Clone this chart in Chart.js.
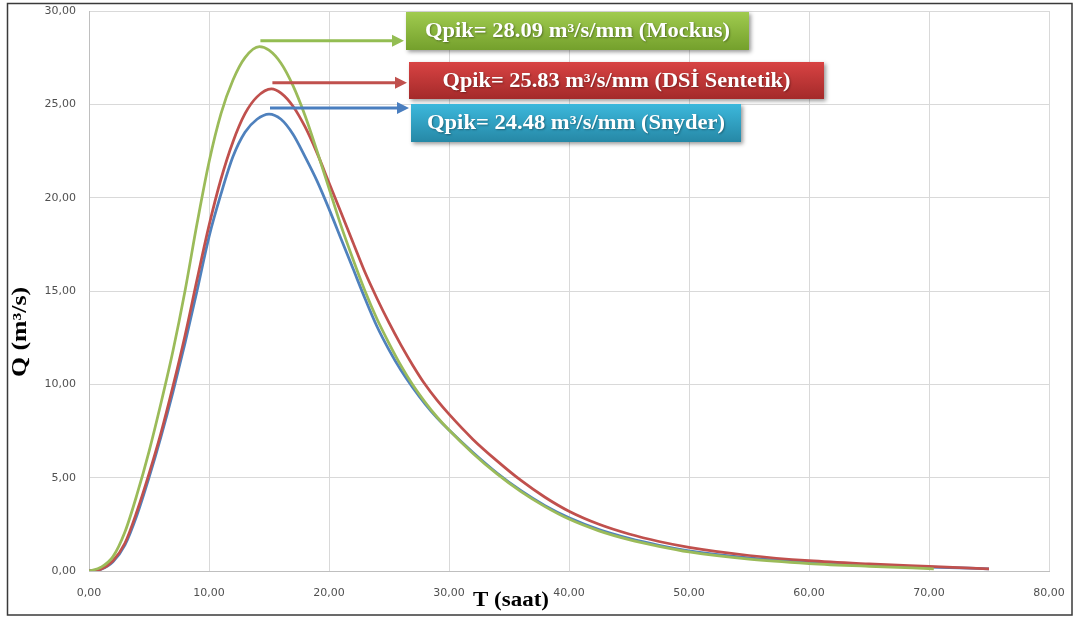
<!DOCTYPE html>
<html>
<head>
<meta charset="utf-8">
<script src="https://cdn.jsdelivr.net/npm/chart.js@4.4.1/dist/chart.umd.min.js"></script>
<style>
  html, body { margin: 0; padding: 0; background: #ffffff; }
  #wrap { position: relative; width: 1078px; height: 619px; }
</style>
</head>
<body>
<div id="wrap"><canvas id="c" width="1078" height="619"></canvas></div>
<script>
// Axis ticks
const xTicks = [0, 10, 20, 30, 40, 50, 60, 70, 80];
const yTicks = [0, 5, 10, 15, 20, 25, 30];

// Unit hydrographs: time (saat) and discharge (m3/s/mm)
const mockusT = [0, 1, 2, 3, 4, 5, 6, 7, 8, 9, 10, 11, 12, 13, 14.2, 15, 16, 17, 18, 19, 20, 21, 22, 23, 24, 25, 26, 27, 28, 29, 30, 32, 34, 36, 38, 40, 42.5, 45, 47.5, 50, 55, 60, 65, 70.4];
const mockusQ = [0, 0.2, 0.77, 2.1, 4.1, 6.4, 9.0, 11.8, 15.0, 18.6, 21.9, 24.5, 26.3, 27.5, 28.09, 27.9, 27.2, 26.0, 24.4, 22.5, 20.5, 18.5, 16.7, 15.0, 13.5, 12.2, 11.0, 9.95, 9.05, 8.25, 7.55, 6.3, 5.2, 4.25, 3.45, 2.78, 2.15, 1.68, 1.32, 1.02, 0.63, 0.4, 0.25, 0.12];

const dsiT = [0, 1, 2, 3, 4, 5, 6, 7, 8, 9, 10, 11, 12, 13, 14, 15.2, 16, 17, 18, 19, 20, 21, 22, 23, 24, 25, 26, 27, 28, 29, 30, 32, 34, 36, 38, 40, 42.5, 45, 47.5, 50, 55, 60, 65, 70, 75];
const dsiQ = [0, 0.1, 0.55, 1.5, 3.2, 5.2, 7.4, 9.9, 12.6, 15.6, 18.5, 21.0, 23.0, 24.5, 25.4, 25.83, 25.6, 24.9, 23.8, 22.4, 20.8, 19.2, 17.6, 16.0, 14.6, 13.3, 12.1, 11.0, 10.0, 9.15, 8.4, 7.05, 5.9, 4.85, 3.95, 3.2, 2.5, 1.98, 1.58, 1.27, 0.83, 0.55, 0.38, 0.25, 0.12];

const snyderT = [0, 1, 2, 3, 4, 5, 6, 7, 8, 9, 10, 11, 12, 13, 14, 15, 16, 17, 18, 19, 20, 21, 22, 23, 24, 25, 26, 27, 28, 29, 30, 32, 34, 36, 38, 40, 42.5, 45, 47.5, 50, 55, 60, 65, 70, 75];
const snyderQ = [0, 0.1, 0.5, 1.4, 3.0, 5.0, 7.2, 9.6, 12.2, 15.0, 17.9, 20.2, 22.2, 23.5, 24.2, 24.48, 24.2, 23.4, 22.2, 20.9, 19.4, 17.8, 16.2, 14.6, 13.1, 11.85, 10.75, 9.8, 8.95, 8.2, 7.55, 6.35, 5.25, 4.3, 3.5, 2.85, 2.22, 1.75, 1.38, 1.08, 0.7, 0.46, 0.32, 0.21, 0.12];

// Peak discharge callouts
const peakNames = ['Mockus', 'DSİ Sentetik', 'Snyder'];
const peakValues = [28.09, 25.83, 24.48];
const peakTimes = [14.2, 15.2, 15];

const fmt = v => Number(v).toFixed(2).replace('.', ',');
const pts = (t, q) => t.map((x, i) => ({ x: x, y: q[i] }));

const seriesStyle = (color) => ({
  showLine: true,
  borderColor: color,
  backgroundColor: color,
  borderWidth: 2.75,
  pointRadius: 0,
  cubicInterpolationMode: 'monotone',
  fill: false
});

// Frame around the whole figure
const framePlugin = {
  id: 'frame',
  beforeDraw(chart) {
    const ctx = chart.ctx;
    ctx.save();
    ctx.fillStyle = '#ffffff';
    ctx.fillRect(0, 0, chart.width, chart.height);
    ctx.strokeStyle = '#3a3a3a';
    ctx.lineWidth = 1.5;
    ctx.strokeRect(7.5, 3.5, 1064.5, 611.5);
    ctx.restore();
  }
};

function stretchedText(ctx, text, cx, cy, targetW, font, color, angle) {
  ctx.save();
  ctx.font = font;
  const w = ctx.measureText(text).width;
  ctx.translate(cx, cy);
  if (angle) ctx.rotate(angle);
  ctx.scale(targetW / w, 1);
  ctx.fillStyle = color;
  ctx.textAlign = 'center';
  ctx.textBaseline = 'middle';
  ctx.fillText(text, 0, 0);
  ctx.restore();
}

// Axis titles and peak callouts
const calloutPlugin = {
  id: 'callouts',
  afterDraw(chart) {
    const ctx = chart.ctx;
    const xs = chart.scales.x, ys = chart.scales.y;

    stretchedText(ctx, 'T (saat)', 511, 601, 76, 'bold 20px "Liberation Serif"', '#000000', 0);
    stretchedText(ctx, 'Q (m³/s)', 21, 332, 90, 'bold 20px "Liberation Serif"', '#000000', -Math.PI / 2);

    const boxes = [
      { x: 406, y: 12, w: 343, h: 38, c1: '#a0cb4f', c2: '#74a02c', line: '#93bd52', tw: 305 },
      { x: 409, y: 62, w: 415, h: 37, c1: '#d84343', c2: '#a42a2a', line: '#c0504d', tw: 348 },
      { x: 411, y: 104, w: 330, h: 38, c1: '#3cb8dc', c2: '#2688a6', line: '#4a7ebf', tw: 298 }
    ];

    boxes.forEach((b, i) => {
      // arrow from the peak to the label
      const x0 = xs.getPixelForValue(peakTimes[i]) + 1;
      const y0 = ys.getPixelForValue(peakValues[i]) - 6;
      const x1 = b.x - 2;
      ctx.save();
      ctx.strokeStyle = b.line;
      ctx.fillStyle = b.line;
      ctx.lineWidth = 3;
      ctx.beginPath();
      ctx.moveTo(x0, y0);
      ctx.lineTo(x1 - 9, y0);
      ctx.stroke();
      ctx.beginPath();
      ctx.moveTo(x1, y0);
      ctx.lineTo(x1 - 12, y0 - 6);
      ctx.lineTo(x1 - 12, y0 + 6);
      ctx.closePath();
      ctx.fill();
      ctx.restore();

      // gradient box with soft shadow
      ctx.save();
      ctx.shadowColor = 'rgba(0,0,0,0.4)';
      ctx.shadowBlur = 4;
      ctx.shadowOffsetX = 2;
      ctx.shadowOffsetY = 2;
      const g = ctx.createLinearGradient(0, b.y, 0, b.y + b.h);
      g.addColorStop(0, b.c1);
      g.addColorStop(1, b.c2);
      ctx.fillStyle = g;
      ctx.fillRect(b.x, b.y, b.w, b.h);
      ctx.restore();

      const label = 'Qpik= ' + peakValues[i].toFixed(2) + ' m³/s/mm (' + peakNames[i] + ')';
      ctx.save();
      ctx.shadowColor = 'rgba(0,0,0,0.35)';
      ctx.shadowBlur = 2;
      ctx.shadowOffsetX = 1;
      ctx.shadowOffsetY = 1;
      stretchedText(ctx, label, b.x + b.w / 2, b.y + b.h / 2 + 1, b.tw, 'bold 20px "Liberation Serif"', '#ffffff', 0);
      ctx.restore();
    });
  }
};

const tickFont = { family: 'DejaVu Sans', size: 11 };

new Chart(document.getElementById('c'), {
  type: 'scatter',
  data: {
    datasets: [
      Object.assign({ label: 'Mockus', data: pts(mockusT, mockusQ) }, seriesStyle('#9bbb59')),
      Object.assign({ label: 'DSİ Sentetik', data: pts(dsiT, dsiQ) }, seriesStyle('#c0504d')),
      Object.assign({ label: 'Snyder', data: pts(snyderT, snyderQ) }, seriesStyle('#4f81bd'))
    ]
  },
  options: {
    responsive: false,
    animation: false,
    layout: { padding: { top: 11, right: 29, left: 0, bottom: 0 } },
    plugins: { legend: { display: false }, tooltip: { enabled: false } },
    scales: {
      x: {
        type: 'linear', min: 0, max: 80,
        afterBuildTicks(s) { s.ticks = xTicks.map(v => ({ value: v })); },
        afterFit(s) { s.height = 48; s.paddingLeft = 0; s.paddingRight = 0; },
        ticks: { padding: 16, font: tickFont, color: '#505050', callback: v => fmt(v), maxRotation: 0 },
        grid: { color: '#d9d9d9', lineWidth: 1, drawTicks: false },
        border: { color: '#bfbfbf', width: 1 }
      },
      y: {
        type: 'linear', min: 0, max: 30,
        afterBuildTicks(s) { s.ticks = yTicks.map(v => ({ value: v })); },
        afterFit(s) { s.width = 89; s.paddingTop = 0; s.paddingBottom = 0; },
        ticks: { padding: 13, font: tickFont, color: '#505050', callback: v => fmt(v) },
        grid: { color: '#d9d9d9', lineWidth: 1, drawTicks: false },
        border: { color: '#bfbfbf', width: 1 }
      }
    }
  },
  plugins: [framePlugin, calloutPlugin]
});
</script>
</body>
</html>
